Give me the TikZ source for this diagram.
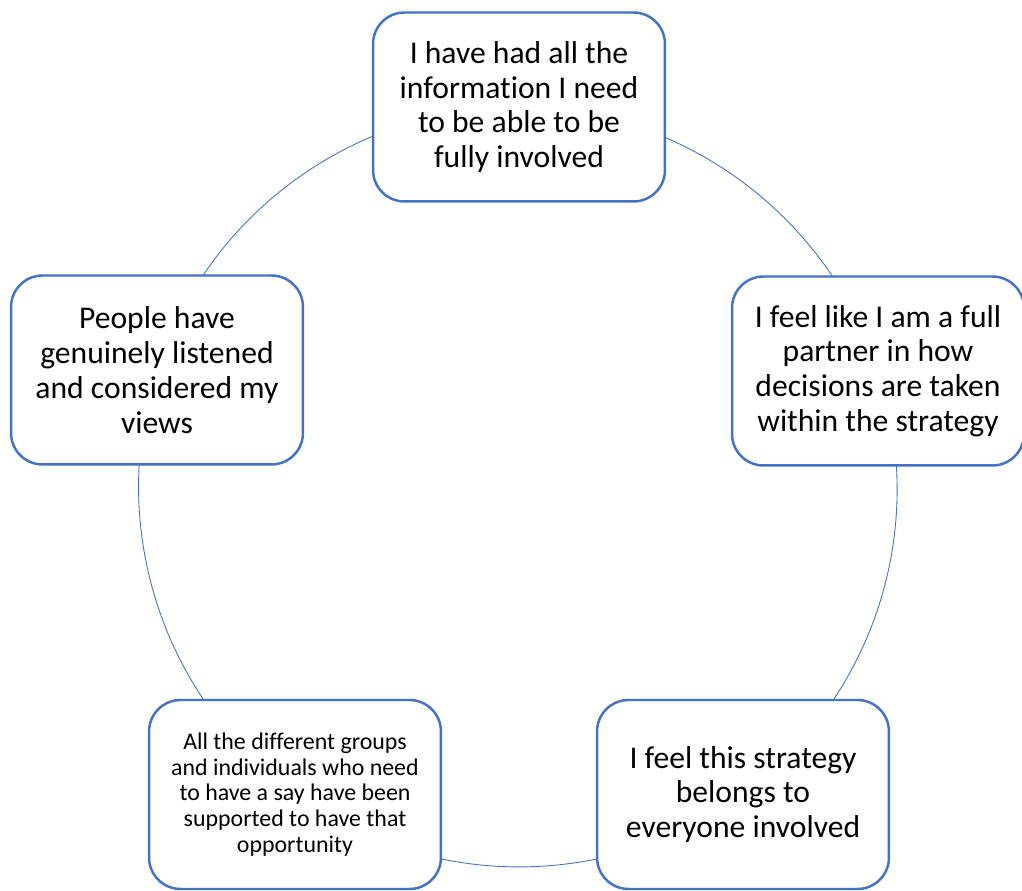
\documentclass[tikz,border=0pt]{standalone}
\usepackage{fontspec}
\setmainfont{Carlito}[Ligatures=NoCommon]
\usetikzlibrary{backgrounds}
\definecolor{ringblue}{HTML}{4472C4}

\begin{document}
\begin{tikzpicture}[x=0.02cm,y=-0.02cm]
\tikzstyle{stage}=[rectangle, rounded corners=6.3mm, draw=ringblue, line width=1.4pt, fill=white, minimum width=58.4mm, minimum height=37.8mm, inner sep=0pt, align=center, font=\fontsize{18}{19.8}\selectfont]
\tikzstyle{small}=[stage, font=\fontsize{13.6}{14.7}\selectfont]
\tikzstyle{ring}=[draw=ringblue, line width=0.5pt, bend left=36, looseness=0.94]

  \useasboundingbox (0,0) rectangle (1022,891);

  \node[stage] (info)    at (519,107)   {I have had all the\\information I need\\to be able to be\\fully involved};
  \node[stage] (partner) at (878,371)   {I feel like I am a full\\partner in how\\decisions are taken\\within the strategy};
  \node[stage] (belongs) at (743,794.5) {I feel this strategy\\belongs to\\everyone involved};
  \node[small] (groups)  at (295,794.5) {All the different groups\\and individuals who need\\to have a say have been\\supported to have that\\opportunity};
  \node[stage] (views)   at (157,370)   {People have\\genuinely listened\\and considered my\\views};

  \begin{scope}[on background layer]
  \path (info.center)    edge [ring] (partner.center)
        (partner.center) edge [ring] (belongs.center)
        (belongs.center) edge [ring] (groups.center)
        (groups.center)  edge [ring] (views.center)
        (views.center)   edge [ring] (info.center);
  \end{scope}

\end{tikzpicture}
\end{document}
